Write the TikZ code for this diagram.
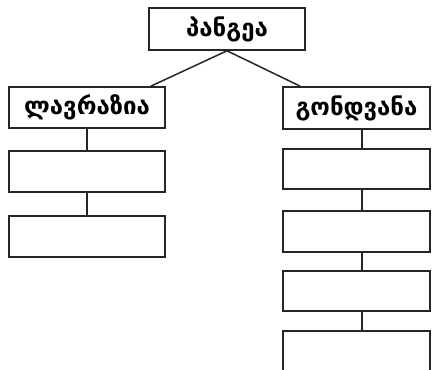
\documentclass[tikz,border=0pt]{standalone}
\usepackage{fontspec}
\newfontfamily\geofont{DejaVu Sans}
\begin{document}
\begin{tikzpicture}[x=1pt,y=1pt,
  box/.style={draw=black!85,line width=1.6pt,rectangle,inner sep=0pt,
    font=\geofont\bfseries\fontsize{24}{28}\selectfont},
  lbox/.style={box,minimum width=156pt,minimum height=41pt},
  rbox/.style={box,minimum width=147pt,minimum height=41pt},
  link/.style={draw=black!85,line width=1.5pt}]
\useasboundingbox (0,0) rectangle (432,370);
\clip (0,0) rectangle (432,370);
\node[lbox,minimum height=42pt] (top) at (227,341) {პანგეა};
\node[lbox] (l1) at (87,262.5) {ლავრაზია};
\node[lbox] (l2) at (87,198.5) {};
\node[lbox] (l3) at (87,133.5) {};
\node[rbox,minimum height=42pt] (r1) at (356.5,262) {გონდვანა};
\node[rbox,minimum height=40pt] (r2) at (356.5,201) {};
\node[rbox] (r3) at (356.5,138.5) {};
\node[rbox,minimum height=40pt] (r4) at (356.5,79) {};
\node[rbox] (r5) at (356.5,18.5) {};
\draw[link] (top.south) -- ([xshift=-15pt]l1.north east);
\draw[link] (top.south) -- ([xshift=18pt]r1.north west);
\draw[link] (l1) -- (l2);
\draw[link] (l2) -- (l3);
\draw[link] ([xshift=5.5pt]r1.south) -- ([xshift=5.5pt]r2.north);
\draw[link] ([xshift=5.5pt]r2.south) -- ([xshift=5.5pt]r3.north);
\draw[link] ([xshift=5.5pt]r3.south) -- ([xshift=5.5pt]r4.north);
\draw[link] ([xshift=5.5pt]r4.south) -- ([xshift=5.5pt]r5.north);
\end{tikzpicture}
\end{document}
